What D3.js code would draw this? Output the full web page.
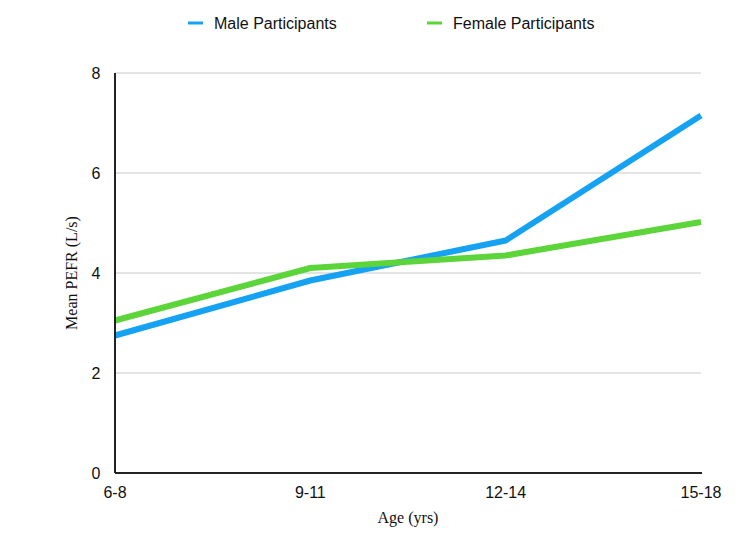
<!DOCTYPE html>
<html>
<head>
<meta charset="utf-8">
<script src="https://cdn.jsdelivr.net/npm/d3@7"></script>
<style>
  body { margin: 0; background: #fff; }
  svg text { font-family: "Liberation Sans", Arial, Helvetica, sans-serif; }
  .title { font-family: "Liberation Serif", "Times New Roman", serif !important; }
</style>
</head>
<body>
<div id="chart"></div>
<script>
// data
const ageGroups = ["6-8", "9-11", "12-14", "15-18"];
const maleValues = [2.75, 3.85, 4.65, 7.15];
const femaleValues = [3.05, 4.1, 4.35, 5.02];
const yTicks = [0, 2, 4, 6, 8];
const seriesNames = ["Male Participants", "Female Participants"];
const seriesColors = ["#16a2f2", "#5bd53a"];

const W = 750, H = 542;
const margin = { top: 73, right: 49, bottom: 69, left: 115 };
const width = W - margin.left - margin.right;
const height = H - margin.top - margin.bottom;

const svg = d3.select("#chart").append("svg")
    .attr("width", W).attr("height", H);
const g = svg.append("g").attr("transform", `translate(${margin.left},${margin.top})`);

const x = d3.scalePoint().domain(ageGroups).range([0, width]);
const y = d3.scaleLinear().domain([0, 8]).range([height, 0]);

// gridlines
g.selectAll(".grid").data(yTicks.filter(d => d > 0)).enter().append("line")
    .attr("x1", 0).attr("x2", width)
    .attr("y1", d => y(d)).attr("y2", d => y(d))
    .attr("stroke", "#c8c8c8").attr("stroke-width", 1);

// y tick labels
g.selectAll(".ytick").data(yTicks).enter().append("text")
    .attr("x", -19).attr("y", d => y(d)).attr("dy", "0.35em")
    .attr("text-anchor", "middle").attr("font-size", 16).attr("fill", "#111")
    .text(d => d);

// x tick labels
g.selectAll(".xtick").data(ageGroups).enter().append("text")
    .attr("x", d => x(d)).attr("y", height + 25)
    .attr("text-anchor", "middle").attr("font-size", 16).attr("fill", "#111")
    .text(d => d);

// lines
const line = d3.line().x((d, i) => x(ageGroups[i])).y(d => y(d));
[maleValues, femaleValues].forEach((vals, i) => {
    g.append("path").datum(vals)
        .attr("d", line)
        .attr("fill", "none")
        .attr("stroke", seriesColors[i])
        .attr("stroke-width", 6)
        .attr("stroke-linejoin", "round");
});

// axes lines
g.append("line").attr("x1", 0).attr("x2", 0).attr("y1", 0).attr("y2", height)
    .attr("stroke", "#222").attr("stroke-width", 2);
g.append("line").attr("x1", 0).attr("x2", width + 1).attr("y1", height).attr("y2", height)
    .attr("stroke", "#222").attr("stroke-width", 2);

// axis titles
svg.append("text").attr("class", "title")
    .attr("x", margin.left + width / 2).attr("y", 523)
    .attr("text-anchor", "middle").attr("font-size", 16).attr("fill", "#111")
    .text("Age (yrs)");
svg.append("text").attr("class", "title")
    .attr("transform", `translate(77,${margin.top + height / 2}) rotate(-90)`)
    .attr("text-anchor", "middle").attr("font-size", 16).attr("fill", "#111")
    .text("Mean PEFR (L/s)");

// legend
const legendX = [188, 427];
seriesNames.forEach((name, i) => {
    svg.append("line")
        .attr("x1", legendX[i]).attr("x2", legendX[i] + 15)
        .attr("y1", 23).attr("y2", 23)
        .attr("stroke", seriesColors[i]).attr("stroke-width", 3);
    svg.append("text")
        .attr("x", legendX[i] + 26).attr("y", 23).attr("dy", "0.35em")
        .attr("font-size", 16).attr("fill", "#111")
        .text(name);
});
</script>
</body>
</html>
